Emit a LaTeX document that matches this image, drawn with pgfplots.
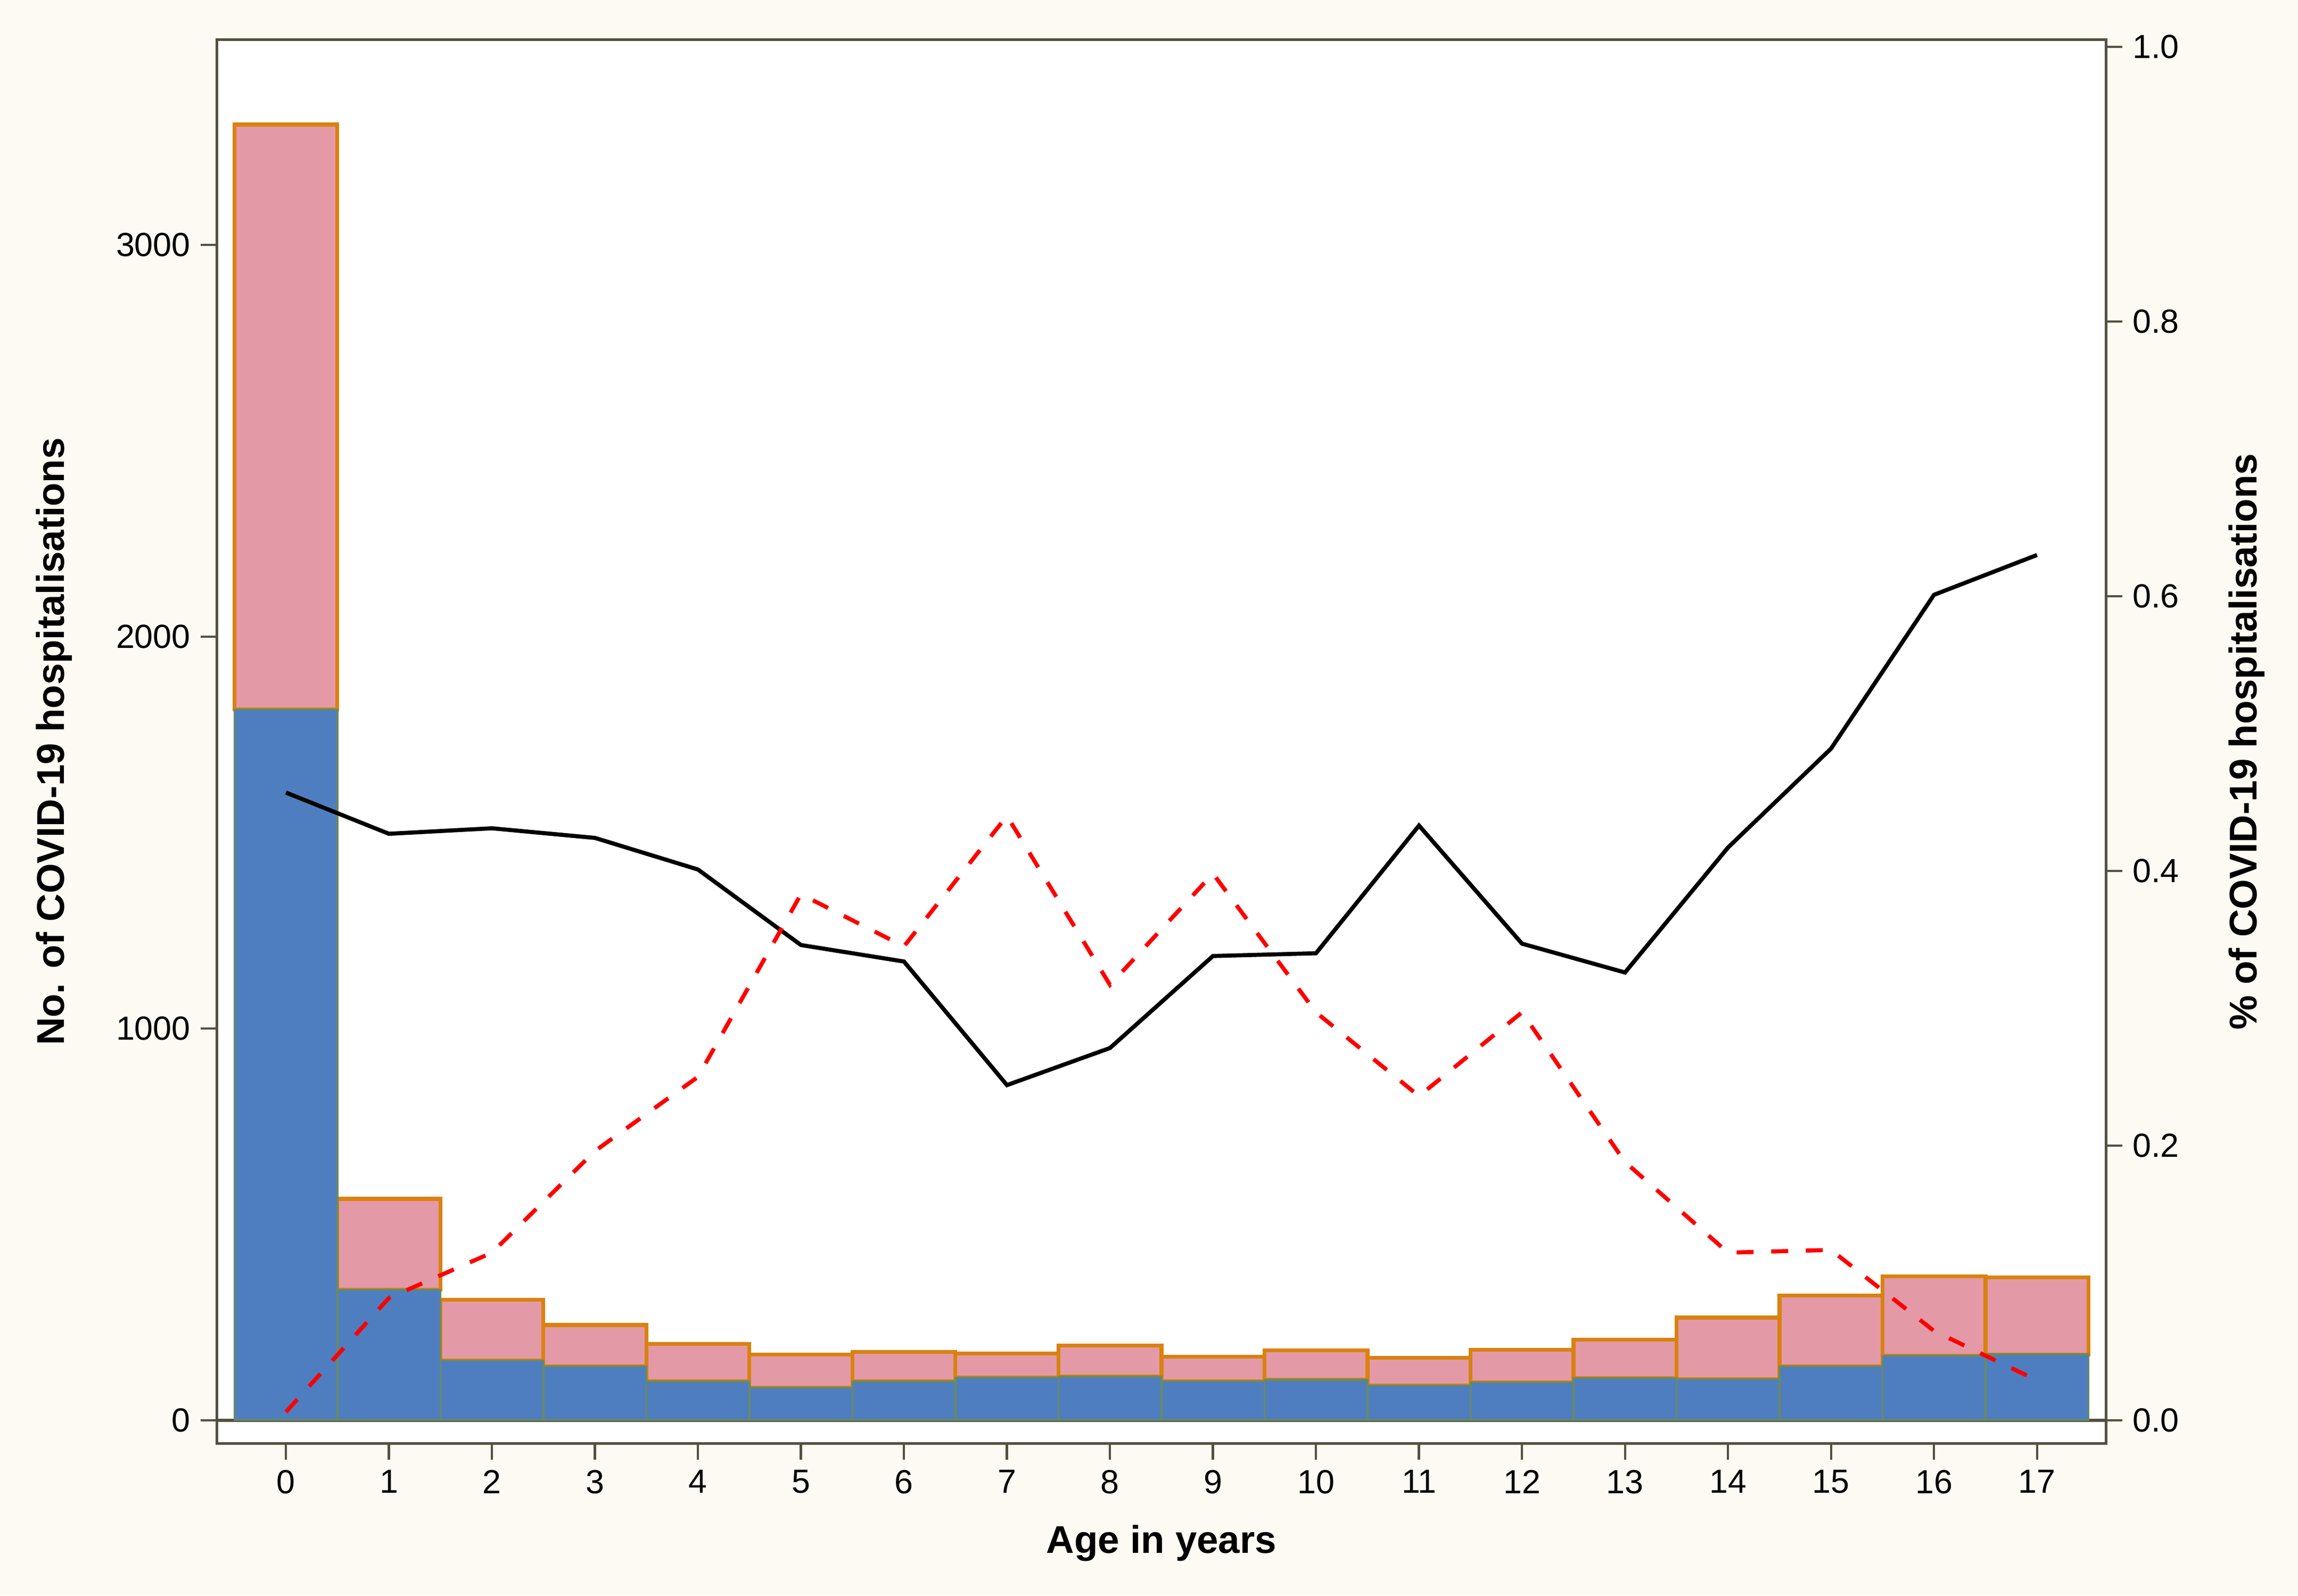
\documentclass[border=0pt]{standalone}
\usepackage{fontspec}
\setmainfont{Liberation Sans}
\usepackage{pgfplots}
\pgfplotsset{compat=1.18}
\definecolor{cbg}{HTML}{FCFAF2}
\definecolor{cframe}{HTML}{545041}
\definecolor{cblue}{HTML}{4E7EC0}
\definecolor{cblueedge}{HTML}{6A8A5E}
\definecolor{cpink}{HTML}{E499A7}
\definecolor{corange}{HTML}{D9820F}
\pgfplotsset{
  common/.style={
    scale only axis, width=644.5pt, height=479pt,
    at={(0,0)}, anchor=south west,
    xmin=-0.67, xmax=17.67,
    tick align=outside,
    major tick length=5.5pt,
    major tick style={draw=cframe, line width=0.8pt},
    axis line style={draw=cframe, line width=0.9pt},
    tick label style={font=\fontsize{11.4}{13}\selectfont, text=black},
    label style={font=\fontsize{13.2}{15}\selectfont\bfseries},
    /pgf/number format/assume math mode=true,
  }
}
\begin{document}
\begin{tikzpicture}
\fill[cbg] (-74pt,-51.8pt) rectangle (710pt,492.5pt);
\begin{axis}[common,
  axis background/.style={fill=white},
  ybar stacked, bar width=1,
  ymin=-60, ymax=3524,
  xtick={0,1,...,17}, xtick pos=lower,
  ytick={0,1000,2000,3000}, ytick pos=lower,
  /pgf/number format/1000 sep={},
  xlabel={Age in years},
  ylabel={No. of COVID-19 hospitalisations},
  xlabel style={at={(axis description cs:0.5,-0.071)}, anchor=center},
  ylabel style={at={(axis description cs:-0.0861,0.5)}, anchor=center},
]
\addplot[fill=cblue, draw=cblueedge, line width=0.6pt] coordinates {
(0,1814) (1,333) (2,153) (3,138) (4,99) (5,83) (6,99) (7,109) (8,111)
(9,100) (10,103) (11,89) (12,97) (13,108) (14,105) (15,138) (16,165) (17,168)};
\addplot[fill=cpink, draw=corange, line width=1.3pt] coordinates {
(0,1493) (1,232) (2,154) (3,105) (4,96) (5,85) (6,75) (7,61) (8,80)
(9,62) (10,75) (11,70) (12,83) (13,98) (14,157) (15,180) (16,202) (17,196)};
\draw[cframe, line width=1.1pt] (axis cs:-0.67,0) -- (axis cs:17.67,0);
\end{axis}
\begin{axis}[common,
  ymin=-0.0171, ymax=1.0053,
  xtick=\empty,
  ytick={0,0.2,0.4,0.6,0.8,1}, ytick pos=upper, yticklabel pos=upper,
  yticklabel style={/pgf/number format/.cd, fixed, fixed zerofill, precision=1},
  ylabel={\% of COVID-19 hospitalisations},
  ylabel style={at={(axis description cs:1.0745,0.5)}, anchor=center, rotate=0},
]
\addplot[black, line width=1.4pt] coordinates {
(0,0.457) (1,0.427) (2,0.431) (3,0.424) (4,0.401) (5,0.346) (6,0.334) (7,0.244)
(8,0.271) (9,0.338) (10,0.340) (11,0.433) (12,0.347) (13,0.326) (14,0.417)
(15,0.489) (16,0.601) (17,0.630)};
\addplot[red, line width=1.4pt, dash pattern=on 5.8pt off 6pt] coordinates {
(0,0.006) (1,0.089) (2,0.122) (3,0.196) (4,0.250) (5,0.383) (6,0.345) (7,0.440)
(8,0.317) (9,0.398) (10,0.297) (11,0.236) (12,0.297) (13,0.188) (14,0.122)
(15,0.124) (16,0.065) (17,0.029)};
\end{axis}
\pgfresetboundingbox
\path[use as bounding box] (-74pt,-51.8pt) rectangle (710pt,492.5pt);
\end{tikzpicture}
\end{document}
